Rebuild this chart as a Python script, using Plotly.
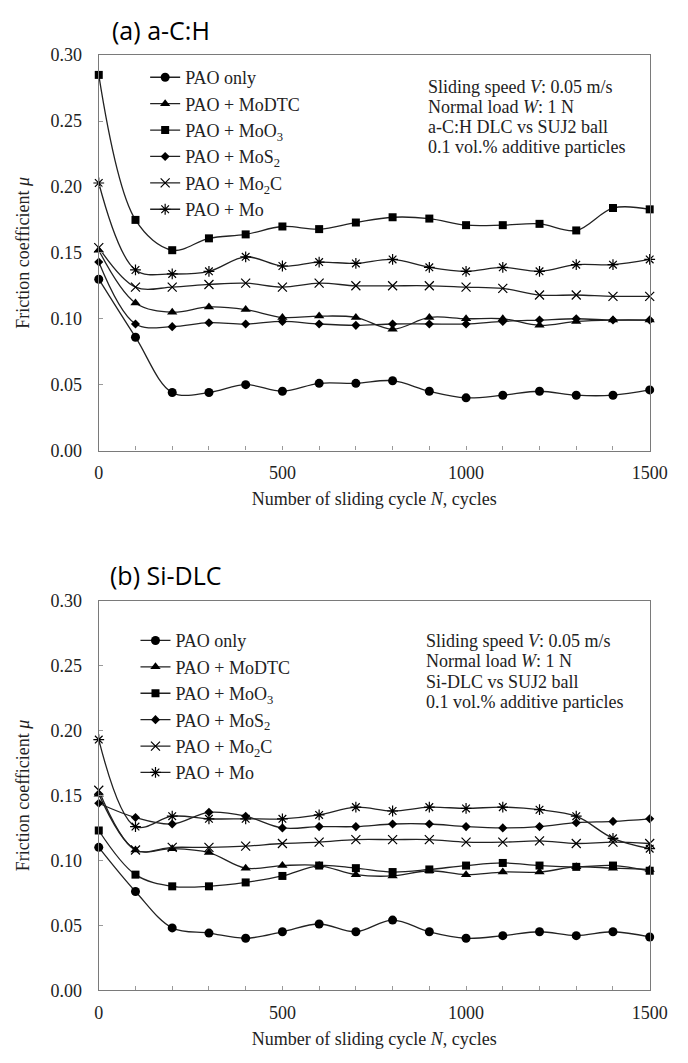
import plotly.graph_objects as go

cycles = [0, 100, 200, 300, 400, 500, 600, 700, 800, 900, 1000, 1100, 1200, 1300, 1400, 1500]

series_names = ["PAO only", "PAO + MoDTC", "PAO + MoO<sub>3</sub>", "PAO + MoS<sub>2</sub>",
                "PAO + Mo<sub>2</sub>C", "PAO + Mo"]

# (a) a-C:H
a_pao = [0.130, 0.086, 0.044, 0.044, 0.050, 0.045, 0.051, 0.051, 0.053, 0.045, 0.040, 0.042, 0.045, 0.042, 0.042, 0.046]
a_modtc = [0.152, 0.112, 0.105, 0.109, 0.107, 0.101, 0.102, 0.101, 0.092, 0.101, 0.100, 0.100, 0.095, 0.098, 0.099, 0.099]
a_moo3 = [0.285, 0.175, 0.152, 0.161, 0.164, 0.170, 0.168, 0.173, 0.177, 0.176, 0.171, 0.171, 0.172, 0.167, 0.184, 0.183]
a_mos2 = [0.143, 0.096, 0.094, 0.097, 0.096, 0.098, 0.096, 0.095, 0.096, 0.096, 0.096, 0.098, 0.099, 0.100, 0.099, 0.099]
a_mo2c = [0.154, 0.124, 0.124, 0.126, 0.127, 0.124, 0.127, 0.125, 0.125, 0.125, 0.124, 0.123, 0.118, 0.118, 0.117, 0.117]
a_mo = [0.203, 0.137, 0.134, 0.136, 0.147, 0.140, 0.143, 0.142, 0.145, 0.139, 0.136, 0.139, 0.136, 0.141, 0.141, 0.145]

# (b) Si-DLC
b_pao = [0.110, 0.076, 0.048, 0.044, 0.040, 0.045, 0.051, 0.045, 0.054, 0.045, 0.040, 0.042, 0.045, 0.042, 0.045, 0.041]
b_modtc = [0.151, 0.108, 0.109, 0.106, 0.094, 0.096, 0.096, 0.089, 0.088, 0.092, 0.089, 0.091, 0.091, 0.095, 0.094, 0.093]
b_moo3 = [0.123, 0.089, 0.080, 0.080, 0.083, 0.088, 0.096, 0.094, 0.091, 0.093, 0.096, 0.098, 0.096, 0.095, 0.096, 0.092]
b_mos2 = [0.144, 0.133, 0.128, 0.137, 0.134, 0.125, 0.126, 0.126, 0.128, 0.128, 0.126, 0.125, 0.126, 0.129, 0.130, 0.132]
b_mo2c = [0.154, 0.108, 0.110, 0.110, 0.111, 0.113, 0.114, 0.116, 0.116, 0.116, 0.114, 0.114, 0.115, 0.113, 0.114, 0.113]
b_mo = [0.193, 0.126, 0.134, 0.132, 0.132, 0.132, 0.135, 0.141, 0.138, 0.141, 0.140, 0.141, 0.139, 0.134, 0.117, 0.109]

y_ticks = [0.00, 0.05, 0.10, 0.15, 0.20, 0.25, 0.30]
x_ticks = [0, 500, 1000, 1500]

notes_a = ["Sliding speed <i>V</i>: 0.05 m/s", "Normal load <i>W</i>: 1 N",
           "a-C:H DLC vs SUJ2 ball", "0.1 vol.% additive particles"]
notes_b = ["Sliding speed <i>V</i>: 0.05 m/s", "Normal load <i>W</i>: 1 N",
           "Si-DLC vs SUJ2 ball", "0.1 vol.% additive particles"]

markers = [
    dict(symbol="circle", size=9, color="black"),
    dict(symbol="triangle-up", size=9, color="black"),
    dict(symbol="square", size=8, color="black"),
    dict(symbol="diamond", size=7, color="black"),
    dict(symbol="x-thin-open", size=9, color="black", line=dict(width=1.2, color="#222")),
    dict(symbol="asterisk-open", size=9, color="black", line=dict(width=1.2, color="#222")),
]

W, H = 688, 1063
SERIF = "Liberation Serif, Times New Roman, serif"
SANS = "Open Sans, Noto Sans, sans-serif"

fig = go.Figure()

panels = [
    ([a_pao, a_modtc, a_moo3, a_mos2, a_mo2c, a_mo], "x", "y", "legend"),
    ([b_pao, b_modtc, b_moo3, b_mos2, b_mo2c, b_mo], "x2", "y2", "legend2"),
]
for series, xa, ya, lg in panels:
    for name, vals, mk in zip(series_names, series, markers):
        fig.add_trace(go.Scatter(
            x=cycles, y=vals, name=name, mode="lines+markers",
            line=dict(color="#222", width=1.3, shape="spline", smoothing=1.0),
            marker=mk, xaxis=xa, yaxis=ya, legend=lg, cliponaxis=False,
        ))

def px_x(p):
    return p / W

def px_y(p):
    return 1 - p / H

axis_common = dict(
    showline=True, linecolor="#7a7a7a", linewidth=1.3, mirror=True,
    showgrid=False, zeroline=False, ticks="inside", ticklen=4, tickcolor="#9a9a9a",
    tickfont=dict(family=SERIF, size=18, color="#222"),
)

x_dom = [px_x(97), px_x(667)]
top_dom = [px_y(449), px_y(46)]
bot_dom = [px_y(999), px_y(602)]

xtitle = dict(text="Number of sliding cycle <i>N</i>, cycles", font=dict(family=SERIF, size=18, color="#222"), standoff=10)
ytitle = dict(text="Friction coefficient <i>μ</i>", font=dict(family=SERIF, size=18, color="#222"), standoff=16)

fig.update_layout(
    width=W, height=H, margin=dict(l=0, r=0, t=0, b=0),
    paper_bgcolor="white", plot_bgcolor="white", showlegend=True,
    xaxis=dict(domain=x_dom, anchor="y", range=[0, 1500], tickvals=x_ticks,
               minor=dict(dtick=100, ticks="inside", ticklen=4, tickcolor="#9a9a9a"),
               title=xtitle, ticklabelstandoff=6, **axis_common),
    yaxis=dict(domain=top_dom, anchor="x", range=[0, 0.30], tickvals=y_ticks, tickformat=".2f",
               title=ytitle, ticklabelstandoff=12, **axis_common),
    xaxis2=dict(domain=x_dom, anchor="y2", range=[0, 1500], tickvals=x_ticks,
                minor=dict(dtick=100, ticks="inside", ticklen=4, tickcolor="#9a9a9a"),
                title=xtitle, ticklabelstandoff=6, **axis_common),
    yaxis2=dict(domain=bot_dom, anchor="x2", range=[0, 0.30], tickvals=y_ticks, tickformat=".2f",
                title=ytitle, ticklabelstandoff=12, **axis_common),
    legend=dict(x=px_x(145), y=px_y(50), xanchor="left", yanchor="top",
                bgcolor="rgba(0,0,0,0)", font=dict(family=SERIF, size=18, color="#222")),
    legend2=dict(x=px_x(135), y=px_y(624), xanchor="left", yanchor="top",
                 bgcolor="rgba(0,0,0,0)", font=dict(family=SERIF, size=18, color="#222")),
)

annotations = [
    dict(text="(a) a-C:H", x=px_x(109), y=px_y(20), xref="paper", yref="paper",
         xanchor="left", yanchor="middle", showarrow=False, font=dict(family=SANS, size=25, color="black")),
    dict(text="(b) Si-DLC", x=px_x(107), y=px_y(576), xref="paper", yref="paper",
         xanchor="left", yanchor="middle", showarrow=False, font=dict(family=SANS, size=25, color="black")),
]
for i, t in enumerate(notes_a):
    annotations.append(dict(text=t, x=px_x(436), y=px_y(78 + i * 20.7), xref="paper", yref="paper",
                            xanchor="left", yanchor="middle", showarrow=False,
                            font=dict(family=SERIF, size=18, color="#222")))
for i, t in enumerate(notes_b):
    annotations.append(dict(text=t, x=px_x(434), y=px_y(643 + i * 20.7), xref="paper", yref="paper",
                            xanchor="left", yanchor="middle", showarrow=False,
                            font=dict(family=SERIF, size=18, color="#222")))
fig.update_layout(annotations=annotations)

fig.write_html("out.html")
